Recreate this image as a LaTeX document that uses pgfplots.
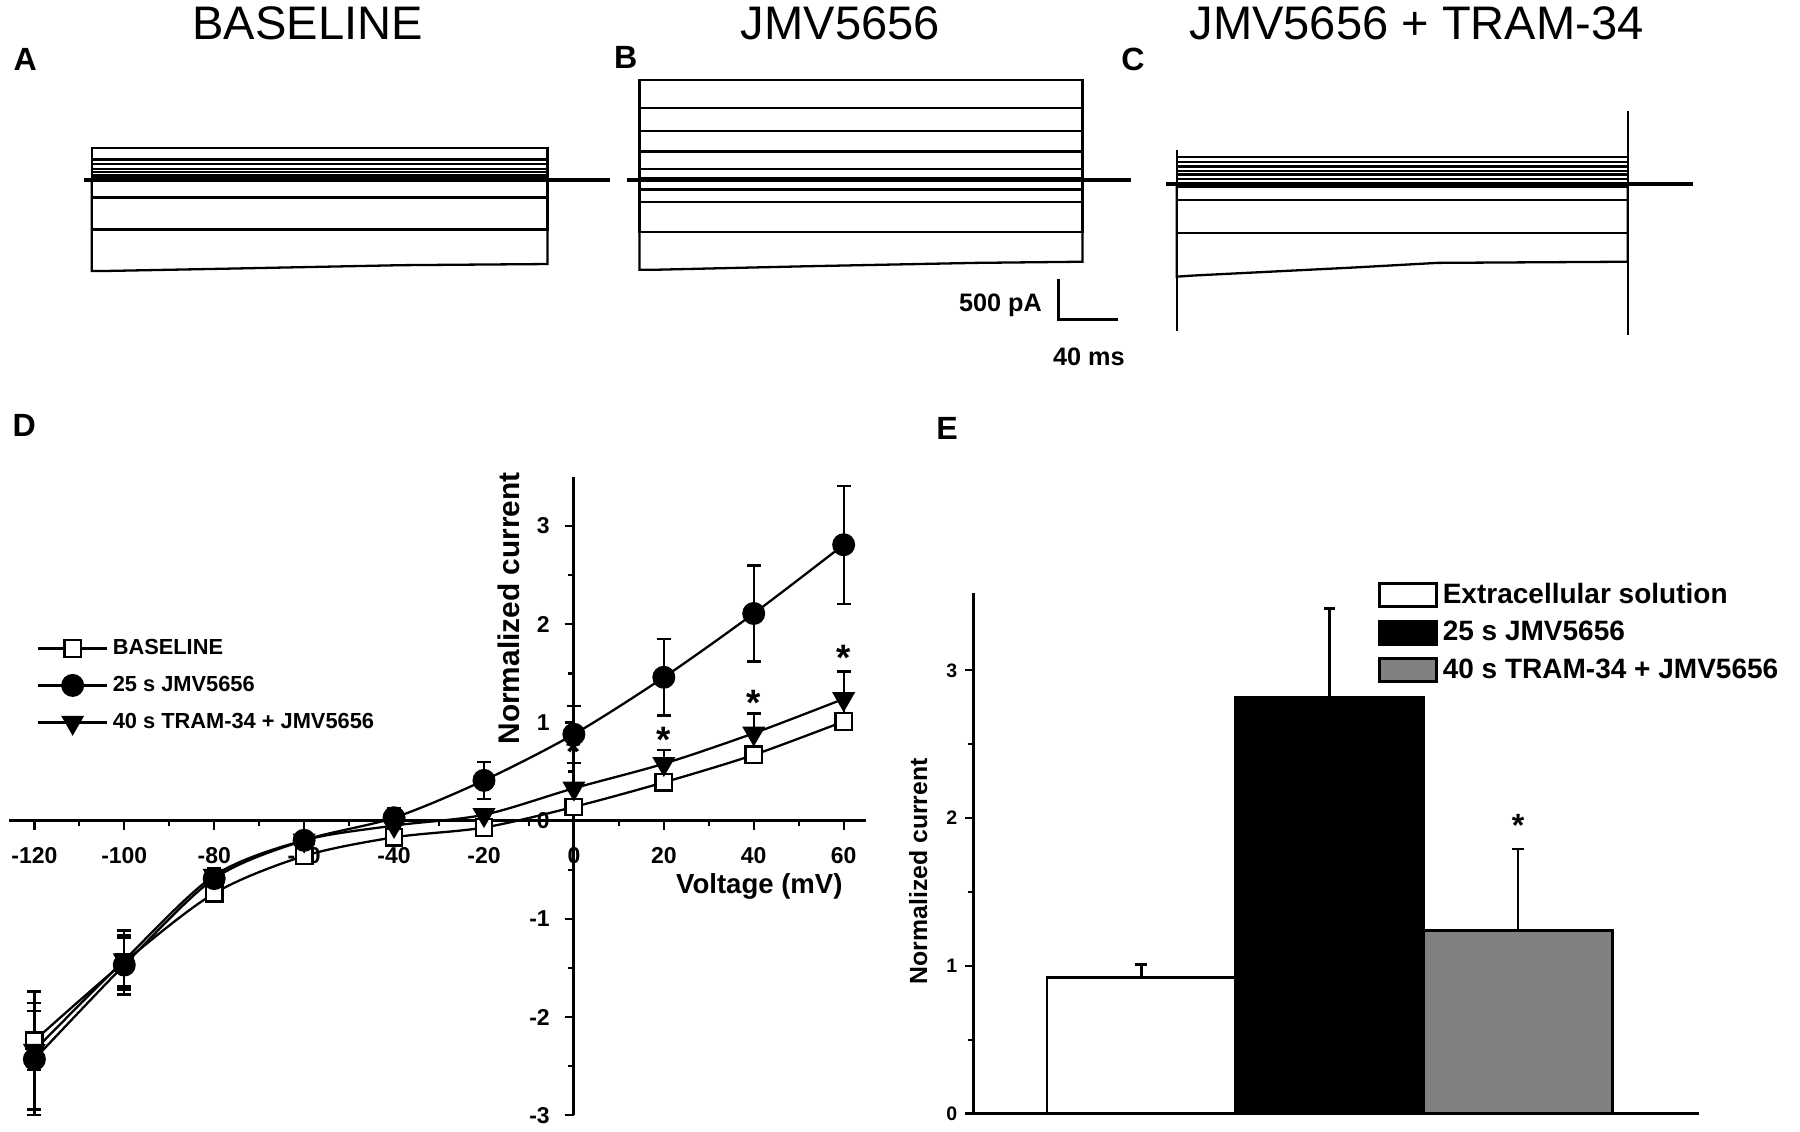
\documentclass[border=0pt]{standalone}
\usepackage{pgfplots}
\pgfplotsset{compat=1.18}
\usepackage{fontspec}
\setmainfont{Liberation Sans}

\begin{document}
\begin{tikzpicture}
\useasboundingbox (0,0) rectangle (784pt,493pt);

% ---- current traces A, B, C (coordinates in picture pixels, y downwards)
\begin{axis}[at={(0pt,328pt)}, anchor=south west, scale only axis,
  width=784pt, height=165pt, xmin=0, xmax=1568, ymin=0, ymax=330,
  y dir=reverse, hide axis, clip=false,
  cycle list={black, solid, line width=1pt, no marks\\}]
  % A: baseline
  \addplot+[line width=1.6pt] coordinates {(73,157) (531,157)};
  \pgfplotsinvokeforeach{129,139,143,147,150,153,155,172,200}{
    \addplot coordinates {(80,157) (80,#1) (477,#1) (477,157)};
  }
  \addplot coordinates {(80,157) (80,236) (95,236) (200,234) (350,231) (477,230) (477,157)};
  % B
  \addplot+[line width=1.6pt] coordinates {(546,157) (985,157)};
  \pgfplotsinvokeforeach{70,94,114,132,147,155,165,176,202}{
    \addplot coordinates {(557,157) (557,#1) (943,#1) (943,157)};
  }
  \addplot coordinates {(557,157) (557,235) (570,235) (700,232) (850,229) (943,228) (943,157)};
  % C
  \addplot+[line width=1.6pt] coordinates {(1016,160) (1475,160)};
  \pgfplotsinvokeforeach{137,141,145,149,152,156,163,174,203}{
    \addplot coordinates {(1025,160) (1025,#1) (1418,#1) (1418,160)};
  }
  \addplot coordinates {(1025,160) (1025,241) (1040,240) (1100,237) (1180,233) (1252,229) (1418,228) (1418,160)};
  \addplot coordinates {(1025,131) (1025,288)};
  \addplot coordinates {(1418,97) (1418,292)};
  % scale bar
  \addplot[black, line width=1.4pt] coordinates {(922,243) (922,278) (974,278)};
\end{axis}

% ---- D: I-V curves
\begin{axis}[at={(4pt,7.25pt)}, anchor=south west, scale only axis,
  width=373.25pt, height=278pt,
  xmin=-125.6, xmax=65, ymin=-3, ymax=3.5,
  axis lines=middle, axis line style={-, line width=1.3pt},
  hide obscured x ticks=false, hide obscured y ticks=false,
  xtick={-120,-100,...,60}, ytick={-3,-2,...,3},
  minor x tick num=1, minor y tick num=1,
  tick align=outside, major tick length=4pt, minor tick length=2.5pt,
  tick style={black, line width=1pt},
  /pgf/number format/assume math mode=true,
  tick label style={font=\bfseries\fontsize{10}{12}\selectfont},
  xticklabel style={yshift=-4pt},
  yticklabel style={xshift=-3pt},
  clip=false,
  legend style={at={(0.032,0.754)}, anchor=north west, draw=none, fill=none,
    font=\bfseries\fontsize{9.5}{11}\selectfont, row sep=4pt,
    inner sep=0pt},
  legend cell align=left,
  legend image code/.code={\draw[mark repeat=2, mark phase=2, #1]
    plot coordinates {(0pt,0pt) (15pt,0pt) (30pt,0pt)};},
  every axis plot/.append style={black, line width=1pt, smooth,
    error bars/y dir=both, error bars/y explicit,
    error bars/error bar style={line width=1pt, solid},
    error bars/error mark options={rotate=90, mark size=3pt, line width=1pt}}]
  \addplot[mark=square*, mark size=3.6pt, mark options={fill=white, solid}]
  coordinates {
    (-120,-2.24) +- (0,0.30)
    (-100,-1.44) +- (0,0.25)
    (-80,-0.74) +- (0,0.08)
    (-60,-0.36) +- (0,0.05)
    (-40,-0.17) +- (0,0.05)
    (-20,-0.07) +- (0,0.04)
    (0,0.14) +- (0,0.06)
    (20,0.39) +- (0,0.06)
    (40,0.67) +- (0,0.05)
    (60,1.01) +- (0,0.06)
  };
  \addplot[mark=*, mark size=4.5pt, mark options={fill=black, solid}]
  coordinates {
    (-120,-2.43) +- (0,0.57)
    (-100,-1.47) +- (0,0.30)
    (-80,-0.59) +- (0,0.10)
    (-60,-0.20) +- (0,0.08)
    (-40,0.03) +- (0,0.10)
    (-20,0.41) +- (0,0.19)
    (0,0.88) +- (0,0.29)
    (20,1.46) +- (0,0.39)
    (40,2.11) +- (0,0.49)
    (60,2.81) +- (0,0.60)
  };
  \addplot[mark=triangle*, mark size=4.8pt, mark options={fill=black, solid, rotate=180}]
  coordinates {
    (-120,-2.34) +- (0,0.60)
    (-100,-1.42) +- (0,0.30)
    (-80,-0.56) +- (0,0.08)
    (-60,-0.20) +- (0,0.06)
    (-40,-0.05) +- (0,0.06)
    (-20,0.06) +- (0,0.05)
    (0,0.33) +- (0,0.26)
    (20,0.58) +- (0,0.14)
    (40,0.89) +- (0,0.20)
    (60,1.24) +- (0,0.28)
  };
  \legend{BASELINE, 25 s JMV5656, 40 s TRAM-34 + JMV5656}
  \node[font=\bfseries\fontsize{16}{16}\selectfont] at (axis cs:0,0.70) {*};
  \node[font=\bfseries\fontsize{16}{16}\selectfont] at (axis cs:20,0.82) {*};
  \node[font=\bfseries\fontsize{16}{16}\selectfont] at (axis cs:40,1.20) {*};
  \node[font=\bfseries\fontsize{16}{16}\selectfont] at (axis cs:60,1.66) {*};
\end{axis}

% ---- E: bar chart
\begin{axis}[at={(424pt,8pt)}, anchor=south west, scale only axis,
  width=316pt, height=226.5pt,
  xmin=0.11, xmax=3.96, ymin=0, ymax=3.52,
  axis x line=bottom, axis y line=left, axis line style={-, line width=1.2pt},
  xtick=\empty, ytick={0,1,2,3}, minor y tick num=1,
  tick align=outside, major tick length=3.5pt, minor tick length=2.5pt,
  tick style={black, line width=1pt},
  /pgf/number format/assume math mode=true,
  tick label style={font=\bfseries\fontsize{8.5}{10}\selectfont},
  clip=false,
  legend style={at={(0.557,1.03)}, anchor=north west, draw=none, fill=none,
    font=\bfseries\fontsize{12.2}{14}\selectfont, row sep=2.3pt,
    inner sep=0pt},
  legend cell align=left,
  legend image code/.code={\draw[#1, line width=1.2pt] (0pt,-5pt) rectangle (25pt,5pt);},
  every axis plot/.append style={ybar, bar width=1, bar shift=0pt,
    draw=black, line width=1.2pt,
    error bars/y dir=plus, error bars/y explicit,
    error bars/error bar style={line width=1.2pt},
    error bars/error mark options={rotate=90, mark size=2.5pt, line width=1.2pt}}]
  \addplot[fill=white] coordinates {(1,0.92) +- (0,0.09)};
  \addplot[fill=black] coordinates {(2,2.82) +- (0,0.60)};
  \addplot[fill=gray] coordinates {(3,1.24) +- (0,0.55)};
  \legend{Extracellular solution, 25 s JMV5656, 40 s TRAM-34 + JMV5656}
  \node[font=\bfseries\fontsize{14}{14}\selectfont] at (axis cs:3,1.95) {*};
\end{axis}

% ---- text
\begin{scope}[yshift=493pt, x=0.5pt, y=-0.5pt]
  \node[font=\fontsize{20.5}{24}\selectfont] at (268,20.5) {BASELINE};
  \node[font=\fontsize{20.5}{24}\selectfont] at (732,20.5) {JMV5656};
  \node[font=\fontsize{20.5}{24}\selectfont] at (1234,20.5) {JMV5656 + TRAM-34};
  \node[font=\bfseries\fontsize{14}{16}\selectfont] at (22,52) {A};
  \node[font=\bfseries\fontsize{14}{16}\selectfont] at (545,50) {B};
  \node[font=\bfseries\fontsize{14}{16}\selectfont] at (987,52) {C};
  \node[font=\bfseries\fontsize{14}{16}\selectfont] at (21,371) {D};
  \node[font=\bfseries\fontsize{14}{16}\selectfont] at (825,373) {E};
  \node[font=\bfseries\fontsize{11}{13}\selectfont] at (871.5,266) {500 pA};
  \node[font=\bfseries\fontsize{11}{13}\selectfont] at (948.5,311) {40 ms};
  \node[rotate=90, font=\bfseries\fontsize{13}{15}\selectfont] at (443,530) {Normalized current};
  \node[font=\bfseries\fontsize{12}{14}\selectfont] at (661.5,772) {Voltage (mV)};
  \node[rotate=90, font=\bfseries\fontsize{10.8}{13}\selectfont] at (800,759) {Normalized current};
\end{scope}
\end{tikzpicture}
\end{document}
